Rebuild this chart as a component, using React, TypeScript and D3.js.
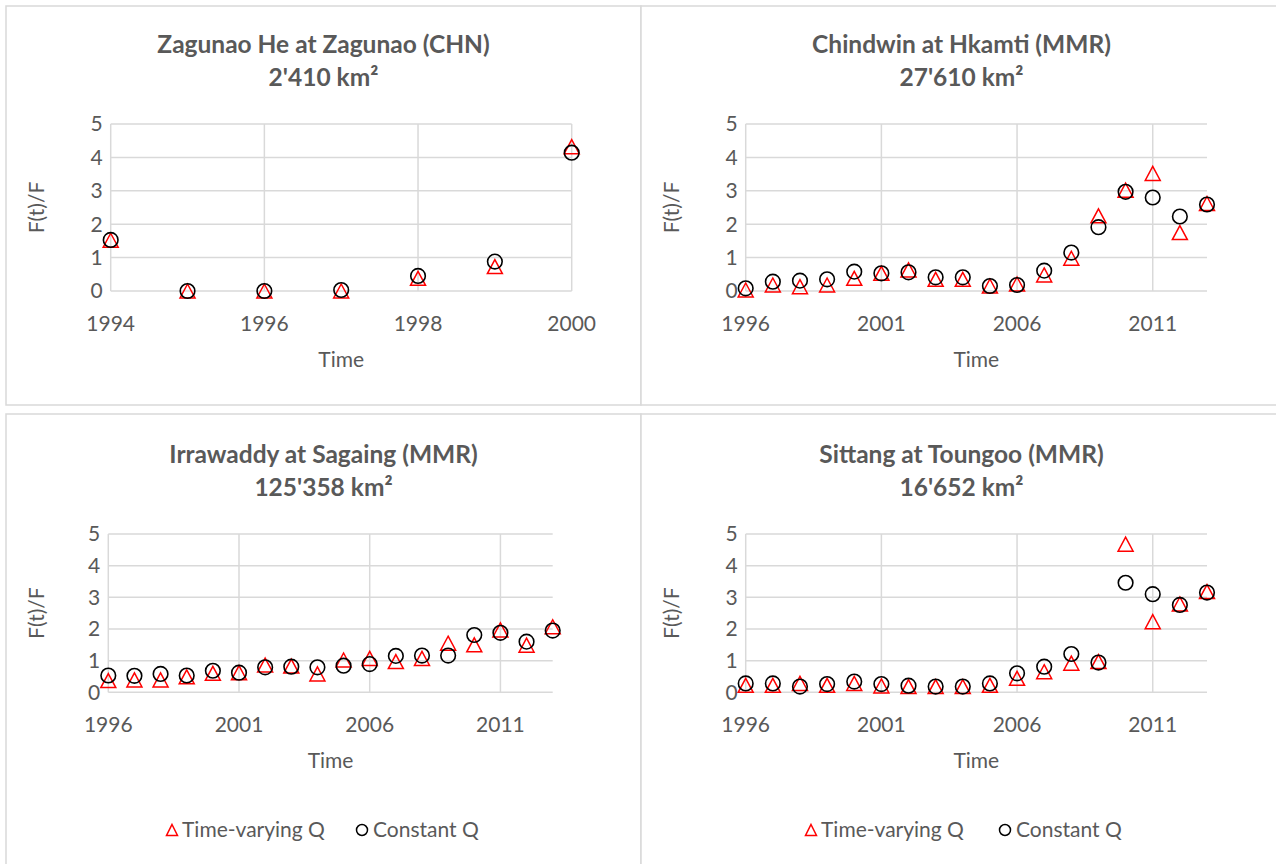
import * as d3 from "d3";

// station data
const yearsZagunao = [1994, 1995, 1996, 1997, 1998, 1999, 2000];
const zagunaoVarying = [1.52, 0.0, 0.0, 0.0, 0.38, 0.73, 4.32];
const zagunaoConstant = [1.53, 0.0, 0.0, 0.03, 0.45, 0.88, 4.14];

const yearsLong = [1996, 1997, 1998, 1999, 2000, 2001, 2002, 2003, 2004, 2005, 2006, 2007, 2008, 2009, 2010, 2011, 2012, 2013];
const chindwinVarying = [0.03, 0.18, 0.13, 0.18, 0.38, 0.53, 0.63, 0.35, 0.35, 0.15, 0.21, 0.48, 0.98, 2.25, 3.02, 3.52, 1.75, 2.62];
const chindwinConstant = [0.08, 0.28, 0.31, 0.35, 0.58, 0.53, 0.56, 0.41, 0.41, 0.15, 0.18, 0.61, 1.15, 1.91, 2.97, 2.8, 2.23, 2.59];
const irrawaddyVarying = [0.37, 0.39, 0.39, 0.49, 0.6, 0.62, 0.86, 0.83, 0.58, 1.02, 1.07, 0.97, 1.07, 1.55, 1.5, 1.97, 1.49, 2.07];
const irrawaddyConstant = [0.53, 0.52, 0.58, 0.53, 0.68, 0.62, 0.79, 0.81, 0.79, 0.84, 0.89, 1.15, 1.16, 1.16, 1.81, 1.88, 1.6, 1.95];
const sittangVarying = [0.22, 0.22, 0.28, 0.22, 0.28, 0.2, 0.18, 0.18, 0.18, 0.22, 0.44, 0.65, 0.92, 0.97, 4.68, 2.23, 2.79, 3.18];
const sittangConstant = [0.28, 0.28, 0.18, 0.26, 0.34, 0.26, 0.21, 0.18, 0.18, 0.28, 0.6, 0.81, 1.21, 0.94, 3.46, 3.1, 2.76, 3.15];

const yTicks = [0, 1, 2, 3, 4, 5];
const ticksZagunao = [1994, 1996, 1998, 2000];
const ticksLong = [1996, 2001, 2006, 2011];

const legendLabels = ["Time-varying Q", "Constant Q"];

const FONT = "Lato, 'Open Sans', sans-serif";
const TEXT = "#595959";
const GRID = "#d9d9d9";

const triPath = (cx: number, cy: number, w: number, h: number) =>
  `M${cx},${cy - h / 2}L${cx + w / 2},${cy + h / 2}L${cx - w / 2},${cy + h / 2}Z`;

type PanelProps = {
  box: [number, number, number, number];
  plot: { left: number; right: number; top: number; bottom: number };
  title: string;
  area: string;
  years: number[];
  xDomain: [number, number];
  xTicks: number[];
  varying: number[];
  constant: number[];
  legend?: { tri: number; circ: number; y: number };
};

const Panel = ({ box, plot, title, area, years, xDomain, xTicks, varying, constant, legend }: PanelProps) => {
  const x = d3.scaleLinear().domain(xDomain).range([plot.left, plot.right]);
  const y = d3.scaleLinear().domain([0, 5]).range([plot.bottom, plot.top]);
  const cx = (box[0] + box[2]) / 2;
  const plotMid = (plot.left + plot.right) / 2;

  return (
    <g>
      <rect x={box[0]} y={box[1]} width={box[2] - box[0]} height={box[3] - box[1]}
        fill="#fff" stroke={GRID} strokeWidth={1.5} />
      <text x={cx} y={plot.top - 71} textAnchor="middle" fontFamily={FONT} fontWeight="bold"
        fontSize={24.5} fill={TEXT}>{title}</text>
      <text x={cx} y={plot.top - 38} textAnchor="middle" fontFamily={FONT} fontWeight="bold"
        fontSize={24.5} fill={TEXT}>{area}</text>

      {/* gridlines */}
      {yTicks.map((t) => (
        <line key={"h" + t} x1={plot.left} x2={plot.right} y1={y(t)} y2={y(t)} stroke={GRID} strokeWidth={1.5} />
      ))}
      {xTicks.map((t) => (
        <line key={"v" + t} x1={x(t)} x2={x(t)} y1={plot.top} y2={plot.bottom} stroke={GRID} strokeWidth={1.5} />
      ))}

      {/* tick labels */}
      {yTicks.map((t) => (
        <text key={"yl" + t} x={plot.left - 8} y={y(t)} dy="0.35em" textAnchor="end"
          fontFamily={FONT} fontSize={21} fill={TEXT}>{t}</text>
      ))}
      {xTicks.map((t) => (
        <text key={"xl" + t} x={x(t)} y={plot.bottom + 40} textAnchor="middle"
          fontFamily={FONT} fontSize={21} fill={TEXT}>{t}</text>
      ))}

      <text x={plotMid} y={plot.bottom + 76} textAnchor="middle" fontFamily={FONT} fontSize={21} fill={TEXT}>Time</text>
      <text transform={`translate(${box[0] + 38},${(plot.top + plot.bottom) / 2}) rotate(-90)`}
        textAnchor="middle" fontFamily={FONT} fontSize={21} fill={TEXT}>F(t)/F</text>

      {/* markers */}
      {years.map((yr, i) => (
        <path key={"t" + yr} d={triPath(x(yr), y(varying[i]), 15, 14)} fill="none" stroke="#ff0000" strokeWidth={1.5} />
      ))}
      {years.map((yr, i) => (
        <circle key={"c" + yr} cx={x(yr)} cy={y(constant[i])} r={7.3} fill="none" stroke="#000" strokeWidth={1.6} />
      ))}

      {legend && (
        <g>
          <path d={triPath(legend.tri, legend.y, 11, 11)} fill="none" stroke="#ff0000" strokeWidth={1.5} />
          <text x={legend.tri + 10} y={legend.y} dy="0.35em" fontFamily={FONT} fontSize={21} fill={TEXT}>{legendLabels[0]}</text>
          <circle cx={legend.circ} cy={legend.y} r={5.5} fill="none" stroke="#000" strokeWidth={1.5} />
          <text x={legend.circ + 11} y={legend.y} dy="0.35em" fontFamily={FONT} fontSize={21} fill={TEXT}>{legendLabels[1]}</text>
        </g>
      )}
    </g>
  );
};

export default function App() {
  return (
    <svg width={1276} height={864} style={{ position: "absolute", left: 0, top: 0, background: "#fff" }}>
      <Panel box={[6, 6, 641, 405]} plot={{ left: 110.7, right: 571.7, top: 124, bottom: 291 }}
        title="Zagunao He at Zagunao (CHN)" area="2'410 km²" years={yearsZagunao}
        xDomain={[1994, 2000]} xTicks={ticksZagunao} varying={zagunaoVarying} constant={zagunaoConstant} />
      <Panel box={[641, 6, 1282, 405]} plot={{ left: 745.7, right: 1207, top: 124, bottom: 291 }}
        title="Chindwin at Hkamti (MMR)" area="27'610 km²" years={yearsLong}
        xDomain={[1996, 2013]} xTicks={ticksLong} varying={chindwinVarying} constant={chindwinConstant} />
      <Panel box={[6, 414, 641, 872]} plot={{ left: 108.3, right: 552.7, top: 534, bottom: 692.3 }}
        title="Irrawaddy at Sagaing (MMR)" area="125'358 km²" years={yearsLong}
        xDomain={[1996, 2013]} xTicks={ticksLong} varying={irrawaddyVarying} constant={irrawaddyConstant}
        legend={{ tri: 172, circ: 362, y: 830 }} />
      <Panel box={[641, 414, 1282, 872]} plot={{ left: 745.7, right: 1207, top: 534, bottom: 692.3 }}
        title="Sittang at Toungoo (MMR)" area="16'652 km²" years={yearsLong}
        xDomain={[1996, 2013]} xTicks={ticksLong} varying={sittangVarying} constant={sittangConstant}
        legend={{ tri: 811, circ: 1005, y: 830 }} />
    </svg>
  );
}
